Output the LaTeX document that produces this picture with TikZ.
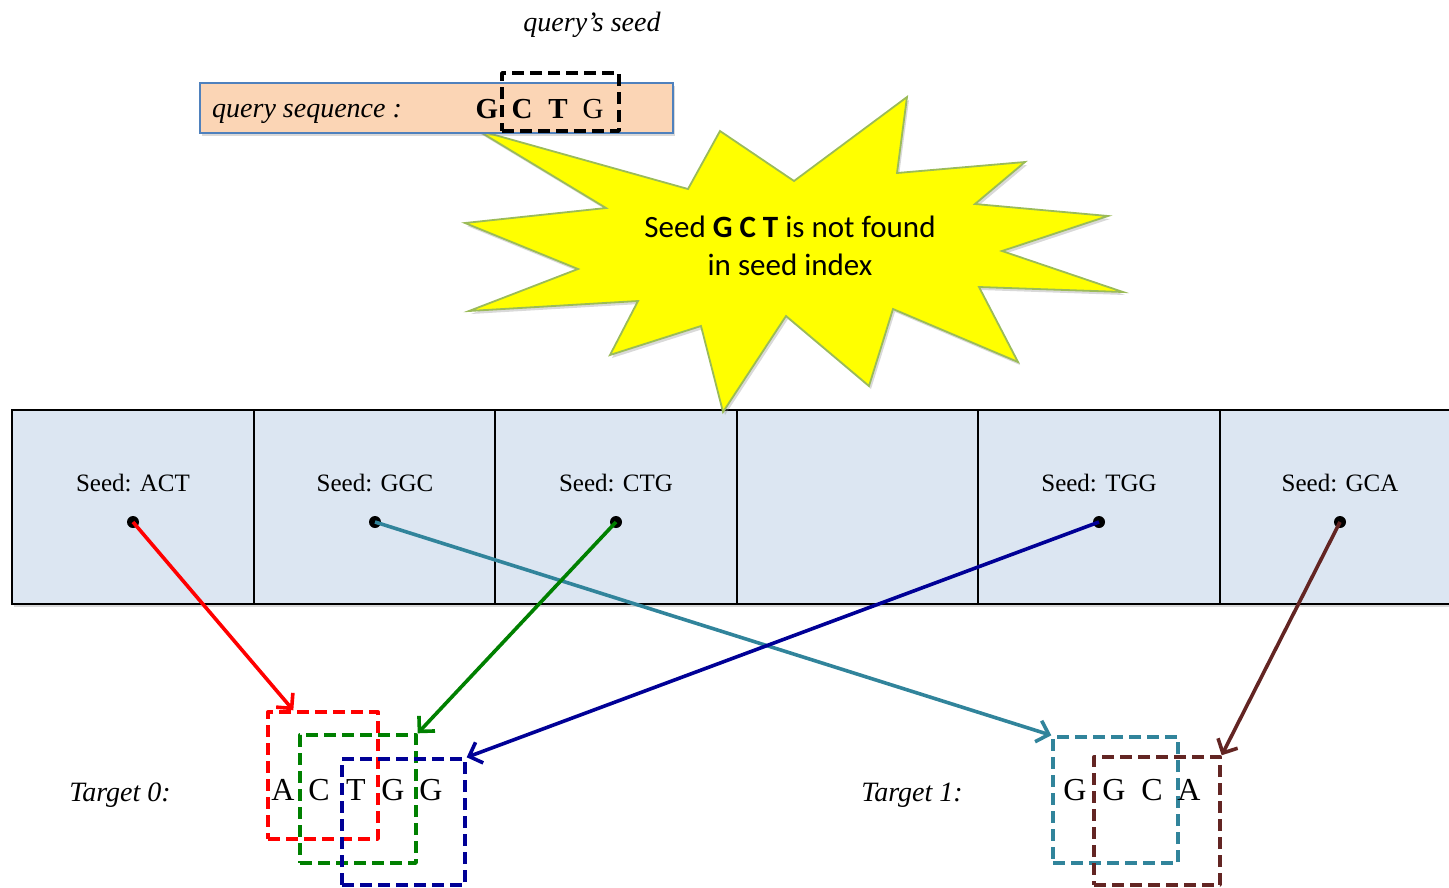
\documentclass[tikz,border=0pt]{standalone}
\usepackage{fontspec}
\setmainfont{Liberation Serif}
\newfontfamily\calibri{Carlito}
\usetikzlibrary{arrows.meta,shadows,calc}

\definecolor{cellfill}{HTML}{DCE6F2}
\definecolor{queryfill}{HTML}{FBD5B5}
\definecolor{queryline}{HTML}{4F81BD}
\definecolor{starline}{HTML}{9BBB59}
\definecolor{starfill}{RGB}{255,255,0}
\definecolor{cred}{RGB}{255,0,0}
\definecolor{cgreen}{RGB}{0,128,0}
\definecolor{cnavy}{RGB}{0,0,150}
\definecolor{cteal}{HTML}{31849B}
\definecolor{cbrown}{HTML}{632523}

\tikzset{
  softshadow/.style={drop shadow={opacity=0.3,shadow xshift=2pt,shadow yshift=-3pt}},
  cell/.style={draw=black,line width=2pt,fill=cellfill,minimum width=241.5pt,
    minimum height=194pt,inner sep=0pt,softshadow},
  celllabel/.style={font=\fontsize{25}{30}\selectfont,inner sep=0pt,anchor=base},
  seeddot/.style={circle,fill=black,inner sep=0pt,minimum size=12pt},
  link/.style={line width=3.6pt,-{Straight Barb[length=11pt,width=22pt]}},
  window/.style={draw,dash pattern=on 12pt off 6pt,line width=3.4pt,
    line join=round,inner sep=0pt},
  base/.style={font=\fontsize{32}{38}\selectfont,inner sep=0pt,anchor=base},
  italiclabel/.style={font=\fontsize{28}{34}\selectfont\itshape,inner sep=0pt,anchor=base},
}

\begin{document}
\begin{tikzpicture}[x=1pt,y=-1pt]
\useasboundingbox (0,0) rectangle (1449,887);
\clip (0,0) rectangle (1449,887);

% seed index cells
\foreach \i/\cx in {1/132.75,2/374.25,3/615.75,4/857.25,5/1098.75,6/1340.25}
  \node[cell] (cell\i) at (\cx,507) {};

% starburst call-out
\draw[fill=starfill,draw=starline,line width=1.8pt,line join=miter,softshadow]
  (477,130) -- (688,189) -- (720,131) -- (794,181) -- (907,97) -- (897,173)
  -- (1025,162) -- (975,204) -- (1108,216) -- (1002,251) -- (1123,292)
  -- (979,287) -- (1018,362) -- (893,309) -- (869,386) -- (786,316)
  -- (723,412) -- (701,326) -- (610,355) -- (638,301) -- (469,311)
  -- (578,269) -- (465,223) -- (606,208) -- cycle;
\node[font=\calibri\fontsize{31}{38}\selectfont,align=center,inner sep=0pt]
  (msg) at (790,246) {Seed \textbf{G C T} is not found\\in seed index};

% query sequence bar
\node[draw=queryline,line width=1.8pt,fill=queryfill,minimum width=473pt,
  minimum height=50pt,inner sep=0pt,softshadow] (query) at (436.5,108) {};
\node[italiclabel,anchor=base west] (qlabel) at (212,117) {query sequence :};
\node[base,font=\fontsize{29}{34}\selectfont\bfseries] (q1) at (487,118) {G};
\node[base,font=\fontsize{29}{34}\selectfont\bfseries] (q2) at (522,118) {C};
\node[base,font=\fontsize{29}{34}\selectfont\bfseries] (q3) at (558,118) {T};
\node[base,font=\fontsize{29}{34}\selectfont] (q4) at (593,118) {G};
\node[window,draw=black,minimum width=117pt,minimum height=58pt] (qseed) at (560.5,102) {};
\node[italiclabel] (qseedlabel) at (592,31) {query’s seed};

% cell labels and dots
\node[celllabel] (lab1) at (133,491) {Seed: ACT};
\node[celllabel] (lab2) at (375,491) {Seed: GGC};
\node[celllabel] (lab3) at (616,491) {Seed: CTG};
\node[celllabel] (lab5) at (1099,491) {Seed: TGG};
\node[celllabel] (lab6) at (1340,491) {Seed: GCA};
\node[seeddot] (d1) at (133,522) {};
\node[seeddot] (d2) at (375,522) {};
\node[seeddot] (d3) at (616,522) {};
\node[seeddot] (d5) at (1099,522) {};
\node[seeddot] (d6) at (1340,522) {};

% target windows
\node[window,draw=cred,minimum width=110pt,minimum height=127pt] (wred) at (323,775.5) {};
\node[window,draw=cgreen,minimum width=116pt,minimum height=128pt] (wgreen) at (358,799) {};
\node[window,draw=cnavy,minimum width=123pt,minimum height=126pt] (wnavy) at (403.5,822) {};
\node[window,draw=cteal,minimum width=125pt,minimum height=126pt] (wteal) at (1115.5,800) {};
\node[window,draw=cbrown,minimum width=126pt,minimum height=128pt] (wbrown) at (1157,821) {};

% target sequences
\node[italiclabel] (t0) at (120,801) {Target 0:};
\node[base] (a1) at (283,800) {A};
\node[base] (a2) at (319,800) {C};
\node[base] (a3) at (356,800) {T};
\node[base] (a4) at (393,800) {G};
\node[base] (a5) at (431,800) {G};
\node[italiclabel] (t1) at (912,801) {Target 1:};
\node[base] (b1) at (1075,800) {G};
\node[base] (b2) at (1114,800) {G};
\node[base] (b3) at (1152,800) {C};
\node[base] (b4) at (1189,800) {A};

% seed hits
\draw[link,cred] (d1.center) -- ([xshift=27pt]wred.north west);
\draw[link,cteal] (d2.center) -- (wteal.north west);
\draw[link,cgreen] (d3.center) -- (wgreen.north east);
\draw[link,cnavy] (d5.center) -- (wnavy.north east);
\draw[link,cbrown] (d6.center) -- (wbrown.north east);
\end{tikzpicture}
\end{document}
